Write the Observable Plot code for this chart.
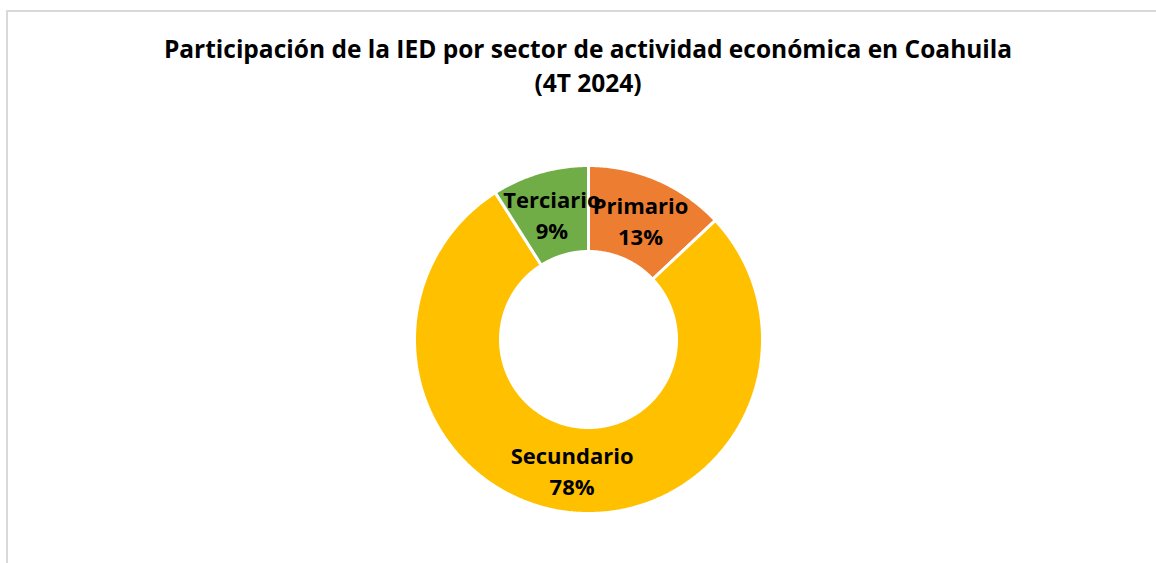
<!DOCTYPE html>
<html>
<head>
<meta charset="utf-8">
<script src="https://cdn.jsdelivr.net/npm/d3@7"></script>
<script src="https://cdn.jsdelivr.net/npm/@observablehq/plot@0.6"></script>
<style>
  html, body { margin: 0; padding: 0; background: #fff; width: 1156px; height: 563px; overflow: hidden; }
  #frame { position: absolute; left: 6px; top: 10px; width: 1300px; height: 700px; border-left: 2px solid #d9d9d9; border-top: 2px solid #d9d9d9; box-sizing: border-box; }
  #title { position: absolute; left: 0; width: 1176px; top: 32px; text-align: center; font-family: "Open Sans", Lato, sans-serif; font-weight: 700; font-size: 24.5px; line-height: 34px; color: #000; }
  #chart { position: absolute; left: 0; top: 110px; }
</style>
</head>
<body>
<div id="frame"></div>
<div id="title">Participación de la IED por sector de actividad económica en Coahuila<br>(4T 2024)</div>
<div id="chart"></div>
<script>
const sectors = ["Primario", "Secundario", "Terciario"];
const shares = [13, 78, 9];
const sectorColors = ["#ED7D31", "#FFC000", "#70AD47"];

const W = 1156, H = 453;
const cx = 588, cy = 229;           // donut centre inside the SVG (pixels)
const outerR = 174, innerR = 88;

const table = sectors.map((s, i) => ({sector: s, share: shares[i], color: sectorColors[i]}));
const arcs = d3.pie().sort(null).value(d => d.share)(table);

function ringPoints(a) {
  const pts = [];
  const n = Math.max(8, Math.ceil((a.endAngle - a.startAngle) / 0.01));
  for (let k = 0; k <= n; k++) {
    const t = a.startAngle + (a.endAngle - a.startAngle) * k / n;
    pts.push({x: outerR * Math.sin(t), y: outerR * Math.cos(t)});
  }
  for (let k = n; k >= 0; k--) {
    const t = a.startAngle + (a.endAngle - a.startAngle) * k / n;
    pts.push({x: innerR * Math.sin(t), y: innerR * Math.cos(t)});
  }
  pts.push(pts[0]);
  return pts;
}

const midR = (outerR + innerR) / 2;
const labels = arcs.map(a => {
  const t = (a.startAngle + a.endAngle) / 2;
  return {x: midR * Math.sin(t), y: midR * Math.cos(t), text: a.data.sector + "\n" + a.data.share + "%"};
});

const marks = arcs.map(a => Plot.line(ringPoints(a), {
  x: "x", y: "y", fill: a.data.color, stroke: "white", strokeWidth: 3, strokeLinejoin: "miter", curve: "linear"
}));
marks.push(Plot.text(labels, {
  x: "x", y: "y", text: "text", fontSize: 22, fontWeight: 700, lineHeight: 1.42,
  fontFamily: "'Open Sans', Lato, sans-serif", fill: "black"
}));

const plot = Plot.plot({
  width: W, height: H,
  margin: 0,
  style: {background: "transparent", overflow: "visible"},
  x: {domain: [-cx, W - cx], range: [0, W], axis: null},
  y: {domain: [-(H - cy), cy], range: [H, 0], axis: null},
  marks
});
document.getElementById("chart").appendChild(plot);
</script>
</body>
</html>
